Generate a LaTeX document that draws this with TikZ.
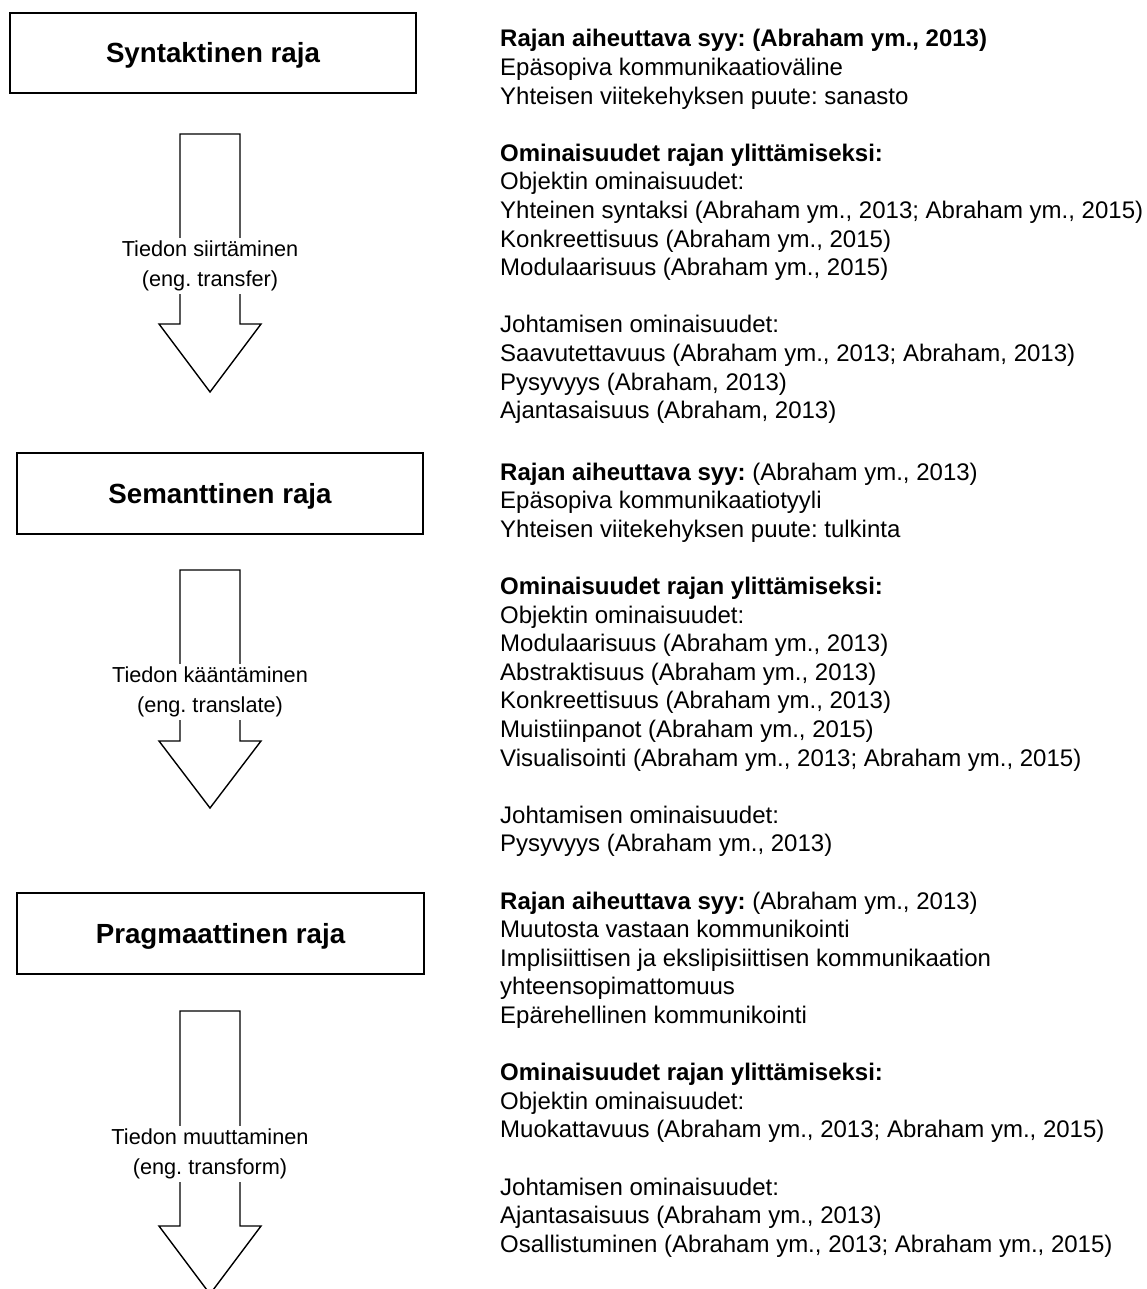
\documentclass[tikz,border=0pt]{standalone}
\usepackage{fontspec}
\setmainfont{Liberation Sans}
\frenchspacing
\begin{document}
\begin{tikzpicture}[x=1pt,y=-1pt,
  titlebox/.style={draw=black, line width=1.4pt, fill=white, inner sep=0pt,
    text height=20pt, text depth=0pt,
    font=\fontsize{27.7}{33}\selectfont\bfseries},
  flowlabel/.style={fill=white, draw=none, inner xsep=4pt, inner ysep=3pt, align=center,
    font=\fontsize{21.7}{29.5}\selectfont},
  infotext/.style={anchor=base west, inner sep=0pt},
  blockarrow/.style={draw=black, line width=1.4pt, fill=white, line join=miter}
]
\useasboundingbox (0,0) rectangle (1147,1289);
\clip (0,0) rectangle (1147,1289);

% boundary boxes
\node[titlebox, minimum width=406pt, minimum height=80pt] (syn) at (213,53) {Syntaktinen raja};
\node[titlebox, minimum width=406pt, minimum height=81pt] (sem) at (220,493.5) {Semanttinen raja};
\node[titlebox, minimum width=407pt, minimum height=81pt] (prag) at (220.5,933.5) {Pragmaattinen raja};

% hollow block arrows: top of shaft, shoulder, tip
\newcommand\downblock[3]{%
  \draw[blockarrow] (180,#1) -- (240,#1) -- (240,#2) -- (261,#2) -- (210,#3)
    -- (159,#2) -- (180,#2) -- cycle;}
\downblock{134}{324}{392}
\downblock{570}{741}{808}
\downblock{1011}{1226}{1294}

% arrow labels, on white so that the shaft is interrupted
\node[flowlabel] (l1) at (210,266) {Tiedon siirtäminen\\(eng. transfer)};
\node[flowlabel] (l2) at (210,692) {Tiedon kääntäminen\\(eng. translate)};
\node[flowlabel] (l3) at (210,1154) {Tiedon muuttaminen\\(eng. transform)};

% descriptions on the right
\newcommand\infoblock[1]{\parbox[t]{700pt}{\fontsize{24}{28.6}\selectfont\raggedright #1}}

\node[infotext] (t1) at (500,47) {\infoblock{%
\textbf{Rajan aiheuttava syy: (Abraham ym., 2013)}\\
Epäsopiva kommunikaatioväline\\
Yhteisen viitekehyksen puute: sanasto\\[28.6pt]
\textbf{Ominaisuudet rajan ylittämiseksi:}\\
Objektin ominaisuudet:\\
Yhteinen syntaksi (Abraham ym., 2013; Abraham ym., 2015)\\
Konkreettisuus (Abraham ym., 2015)\\
Modulaarisuus (Abraham ym., 2015)\\[28.6pt]
Johtamisen ominaisuudet:\\
Saavutettavuus (Abraham ym., 2013; Abraham, 2013)\\
Pysyvyys (Abraham, 2013)\\
Ajantasaisuus (Abraham, 2013)}};

\node[infotext] (t2) at (500,480) {\infoblock{%
\textbf{Rajan aiheuttava syy:} (Abraham ym., 2013)\\
Epäsopiva kommunikaatiotyyli\\
Yhteisen viitekehyksen puute: tulkinta\\[28.6pt]
\textbf{Ominaisuudet rajan ylittämiseksi:}\\
Objektin ominaisuudet:\\
Modulaarisuus (Abraham ym., 2013)\\
Abstraktisuus (Abraham ym., 2013)\\
Konkreettisuus (Abraham ym., 2013)\\
Muistiinpanot (Abraham ym., 2015)\\
Visualisointi (Abraham ym., 2013; Abraham ym., 2015)\\[28.6pt]
Johtamisen ominaisuudet:\\
Pysyvyys (Abraham ym., 2013)}};

\node[infotext] (t3) at (500,909) {\infoblock{%
\textbf{Rajan aiheuttava syy:} (Abraham ym., 2013)\\
Muutosta vastaan kommunikointi\\
Implisiittisen ja ekslipisiittisen kommunikaation\\
yhteensopimattomuus\\
Epärehellinen kommunikointi\\[28.6pt]
\textbf{Ominaisuudet rajan ylittämiseksi:}\\
Objektin ominaisuudet:\\
Muokattavuus (Abraham ym., 2013; Abraham ym., 2015)\\[28.6pt]
Johtamisen ominaisuudet:\\
Ajantasaisuus (Abraham ym., 2013)\\
Osallistuminen (Abraham ym., 2013; Abraham ym., 2015)}};
\end{tikzpicture}
\end{document}
